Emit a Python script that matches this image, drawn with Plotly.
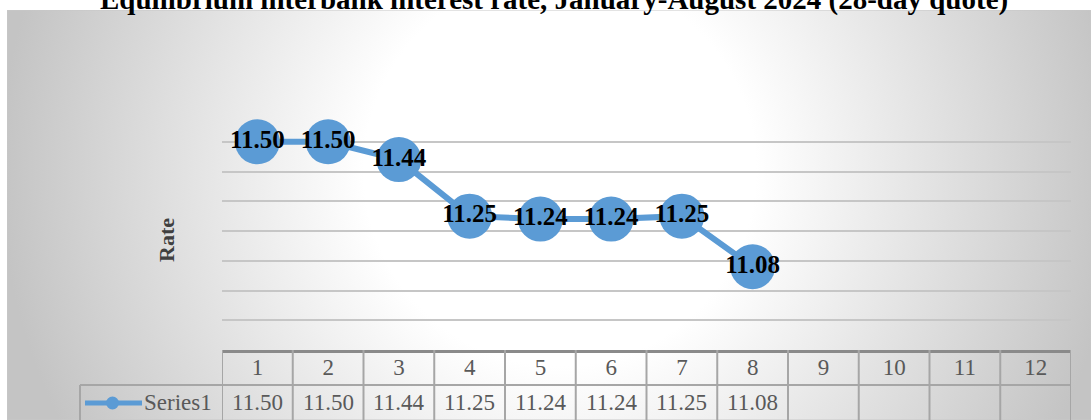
#!/usr/bin/env python3
"""Equilibrium interbank interest rate, Jan-Aug 2024, recreated with Plotly."""

import base64

import plotly.graph_objects as go

# Data
months = [1, 2, 3, 4, 5, 6, 7, 8, 9, 10, 11, 12]
rates = [11.50, 11.50, 11.44, 11.25, 11.24, 11.24, 11.25, 11.08]
series_name = "Series1"
title_text = "Equilibrium interbank interest rate, January-August 2024 (28-day quote)"
y_title = "Rate"

W, H = 1091, 420
M_L, M_R, M_T, M_B = 222, 20, 112, 70
PLOT_W = W - M_L - M_R
PLOT_H = H - M_T - M_B

BLUE = "#5B9BD5"
GREY_TXT = "#595959"
TABLE_LINE = "#a6a6a6"
SERIF = "Liberation Serif, Times New Roman, serif"


def px_x(px):
    return (px - M_L) / PLOT_W


def px_y(py):
    return (H - M_B - py) / PLOT_H


# Radial grey gradient background of the chart area (as an svg image)
box_x0, box_y0 = 7, 10
box_w, box_h = W - box_x0, H - box_y0
svg = f"""<svg xmlns='http://www.w3.org/2000/svg' width='{box_w}' height='{box_h}'>
<defs><radialGradient id='g' gradientUnits='userSpaceOnUse' cx='{560 - box_x0}' cy='{170 - box_y0}' r='560'>
<stop offset='0.35' stop-color='#ffffff'/><stop offset='1' stop-color='#c4c4c4'/></radialGradient></defs>
<rect x='0' y='0' width='{box_w}' height='{box_h}' fill='url(#g)' stroke='#c8c8c8' stroke-width='1'/>
</svg>"""
bg_src = "data:image/svg+xml;base64," + base64.b64encode(svg.encode()).decode()

fig = go.Figure()
fig.add_trace(
    go.Scatter(
        x=months[: len(rates)],
        y=rates,
        mode="lines+markers+text",
        name=series_name,
        line=dict(color=BLUE, width=6),
        marker=dict(color=BLUE, size=45),
        text=[f"<b>{v:.2f}</b>" for v in rates],
        textposition="middle center",
        textfont=dict(family=SERIF, size=25, color="black"),
        showlegend=False,
        cliponaxis=False,
        hoverinfo="skip",
    )
)

shapes = []
table_top, row_sep, table_bot = 350, 385, 421
# vertical column lines of the data table
for k in range(len(months) + 1):
    shapes.append(
        dict(type="line", xref="x", yref="paper", x0=k + 0.5, x1=k + 0.5,
             y0=px_y(table_top), y1=px_y(table_bot),
             line=dict(color=TABLE_LINE, width=2))
    )
# row separator and legend cell borders
shapes.append(dict(type="line", xref="paper", yref="paper", x0=px_x(80), x1=1,
                   y0=px_y(row_sep), y1=px_y(row_sep), line=dict(color=TABLE_LINE, width=2)))
shapes.append(dict(type="line", xref="paper", yref="paper", x0=px_x(80), x1=px_x(80),
                   y0=px_y(row_sep), y1=px_y(table_bot), line=dict(color=TABLE_LINE, width=2)))
# legend key
shapes.append(dict(type="line", xref="paper", yref="paper", x0=px_x(85), x1=px_x(142),
                   y0=px_y(403), y1=px_y(403), line=dict(color=BLUE, width=5)))
shapes.append(dict(type="circle", xref="paper", yref="paper", x0=px_x(106), x1=px_x(119),
                   y0=px_y(396.5), y1=px_y(409.5), fillcolor=BLUE, line=dict(width=0)))

annotations = [
    dict(text=f"<b>{title_text}</b>", xref="paper", yref="paper", x=px_x(554), y=px_y(18),
         xanchor="center", yanchor="bottom", showarrow=False,
         font=dict(family=SERIF, size=29, color="black")),
    dict(text=f"<b>{y_title}</b>", xref="paper", yref="paper", x=px_x(166), y=px_y(240),
         xanchor="center", yanchor="middle",
         textangle=-90, showarrow=False, font=dict(family=SERIF, size=22, color="#404040")),
    dict(text=series_name, xref="paper", yref="paper", x=px_x(214), y=px_y(402),
         xanchor="right", yanchor="middle", showarrow=False,
         font=dict(family=SERIF, size=23, color=GREY_TXT)),
]
for m, v in zip(months, rates):
    annotations.append(
        dict(text=f"{v:.2f}", xref="x", yref="paper", x=m, y=px_y(402),
             xanchor="center", yanchor="middle", showarrow=False,
             font=dict(family=SERIF, size=23, color=GREY_TXT))
    )

fig.update_layout(
    width=W,
    height=H,
    margin=dict(l=M_L, r=M_R, t=M_T, b=M_B),
    paper_bgcolor="white",
    plot_bgcolor="rgba(0,0,0,0)",
    showlegend=False,
    images=[dict(source=bg_src, xref="paper", yref="paper", x=px_x(box_x0), y=px_y(box_y0),
                 sizex=box_w / PLOT_W, sizey=box_h / PLOT_H, xanchor="left", yanchor="top",
                 sizing="stretch", layer="below")],
    shapes=shapes,
    annotations=annotations,
)
fig.update_xaxes(
    range=[0.5, 12.5],
    tickvals=months,
    ticktext=[str(m) for m in months],
    tickfont=dict(family=SERIF, size=23, color=GREY_TXT),
    ticklabelstandoff=-6,
    showgrid=False,
    zeroline=False,
    showline=True,
    linecolor="#8a8a8a",
    linewidth=3,
    ticks="",
)
fig.update_yaxes(
    range=[10.8, 11.6],
    dtick=0.1,
    showticklabels=False,
    gridcolor="#c6c6c6",
    gridwidth=1.5,
    zeroline=False,
    showline=False,
)

# the page would otherwise add the browser's default 8px body margin
fig.write_html(
    "out.html",
    config={"displayModeBar": False},
    post_script="document.body.style.margin = '0';",
)
